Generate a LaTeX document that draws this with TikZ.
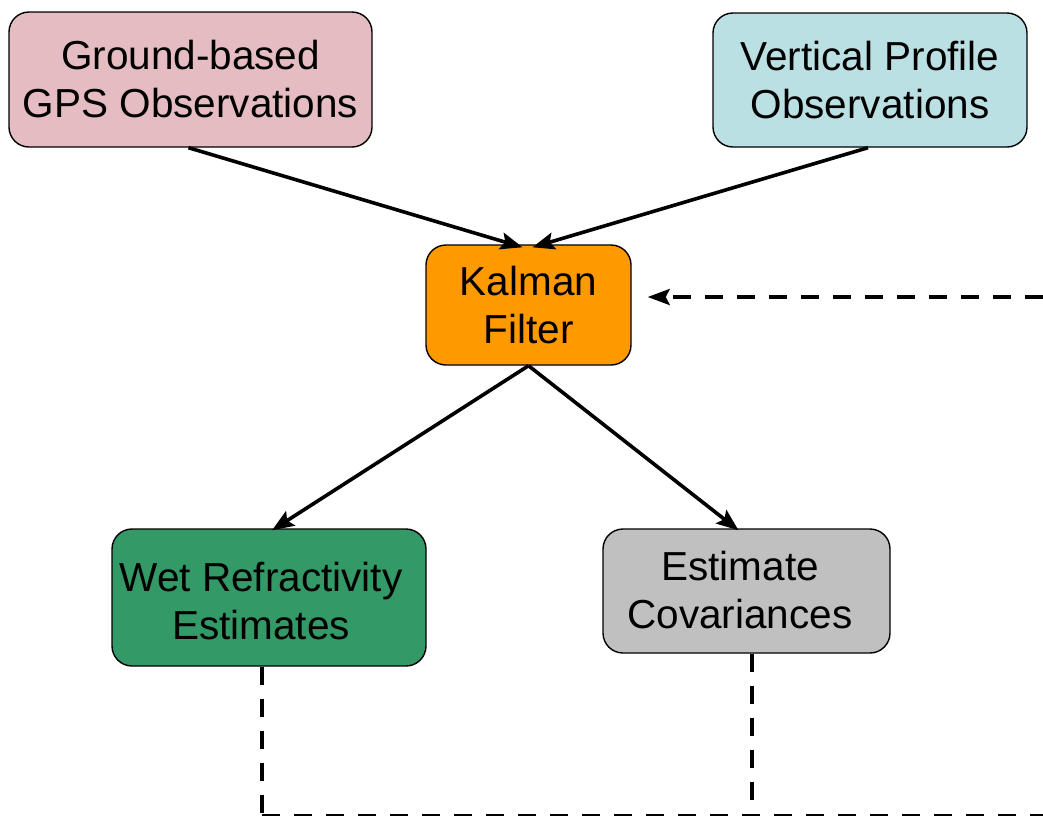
\documentclass[tikz,border=0pt]{standalone}
\usepackage{fontspec}
\setmainfont{Liberation Sans}
\usetikzlibrary{arrows.meta}
\definecolor{gpspink}{RGB}{228,188,193}
\definecolor{vpblue}{RGB}{187,224,227}
\definecolor{kforange}{RGB}{255,153,0}
\definecolor{wetgreen}{RGB}{51,153,102}
\definecolor{covgray}{RGB}{192,192,192}
\tikzset{
  box/.style={draw=black, line width=1.4pt, rounded corners=20pt, inner sep=0pt, align=center,
    font=\fontsize{40.5}{48}\selectfont},
  lbl/.style={inner sep=0pt, align=center, font=\fontsize{40.5}{48}\selectfont},
  arr/.style={line width=3.6pt, -{Stealth[length=22pt,width=17pt,inset=4pt]}},
  dsh/.style={line width=3.6pt, dash pattern=on 18pt off 14pt}
}
\begin{document}
\begin{tikzpicture}[x=1pt,y=-1pt]
\useasboundingbox (0,0) rectangle (1043,815);
\node[box, fill=gpspink, minimum width=363pt, minimum height=135pt] (gps) at (190.5,79.5) {Ground-based\\GPS Observations};
\node[box, fill=vpblue, minimum width=314pt, minimum height=134pt] (vp) at (870,80) {Vertical Profile\\Observations};
\node[box, fill=kforange, minimum width=205pt, minimum height=120pt] (kf) at (528.5,305) {Kalman\\Filter};
\node[box, fill=wetgreen, minimum width=314pt, minimum height=137pt] (wet) at (269,597.5) {};
\node[lbl] (wetl) at (261,601) {Wet Refractivity\\Estimates};
\node[box, fill=covgray, minimum width=287pt, minimum height=124pt] (cov) at (746.5,591) {};
\node[lbl] (covl) at (740,590) {Estimate\\Covariances};
\coordinate (fbR) at (1043,297);
\coordinate (wetB) at (262,816);
\coordinate (covB) at (752,816);
\coordinate (botR) at (1043,816);
\draw[arr] ([xshift=-2pt]gps.south) -- ([xshift=-6pt,yshift=-3pt]kf.north);
\draw[arr] ([xshift=-2pt]vp.south) -- ([xshift=4pt,yshift=-3pt]kf.north);
\draw[arr] (kf.south) -- ([xshift=3pt,yshift=-2pt]wet.north);
\draw[arr] (kf.south) -- ([xshift=-8pt,yshift=-2pt]cov.north);
\draw[dsh, -{Stealth[length=22pt,width=16pt,inset=4pt]}, shorten >=16pt] (fbR) -- (kf.east |- fbR);
\draw[dsh] (wet.south -| wetB) -- (wetB);
\draw[dsh] (cov.south -| covB) -- (covB);
\draw[dsh] (wetB) -- (botR);
\end{tikzpicture}
\end{document}
